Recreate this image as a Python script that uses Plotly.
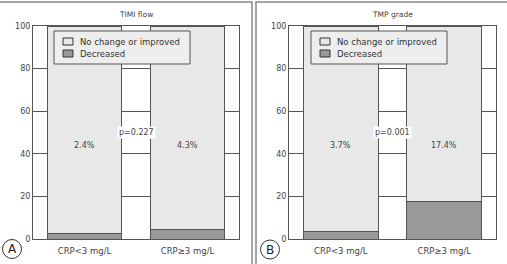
import plotly.graph_objects as go

categories = ["CRP<3 mg/L", "CRP≥3 mg/L"]
timi_decreased = [2.4, 4.3]
timi_nochange = [97.6, 95.7]
tmp_decreased = [3.7, 17.4]
tmp_nochange = [96.3, 82.6]
timi_pct = ["2.4%", "4.3%"]
tmp_pct = ["3.7%", "17.4%"]
p_values = ["p=0.227", "p=0.001"]
titles = ["TIMI flow", "TMP grade"]
panel_letters = ["A", "B"]
yticks = [0, 20, 40, 60, 80, 100]
series_names = ["Decreased", "No change or improved"]

W, H = 507, 264
FONT = "DejaVu Sans"
LIGHT = "#e8e8e8"
DARK = "#999999"
EDGE = "#555555"
TXT = "#444444"


def px(x):
    return x / W


def py(y):
    return 1 - y / H


fig = go.Figure()

panels = [
    dict(xa="x", ya="y", dec=timi_decreased, noc=timi_nochange, pct=timi_pct, leg_x=54),
    dict(xa="x2", ya="y2", dec=tmp_decreased, noc=tmp_nochange, pct=tmp_pct, leg_x=311),
]
colors = [DARK, LIGHT]

for i, p in enumerate(panels):
    for k, vals in enumerate([p["dec"], p["noc"]]):
        fig.add_trace(go.Bar(x=categories, y=vals, name=series_names[k],
                             marker=dict(color=colors[k], line=dict(color=EDGE, width=1)),
                             xaxis=p["xa"], yaxis=p["ya"], showlegend=False))

xdomains = [[px(33), px(239)], [px(289), px(496)]]
ydomain = [py(239), py(26)]

axis_common_x = dict(type="category", showline=True, mirror=True, linecolor=EDGE, linewidth=1, ticks="",
                     tickfont=dict(family=FONT, size=8.5, color=TXT), showgrid=False, automargin=False,
                     ticklabelstandoff=4)
axis_common_y = dict(range=[0, 100], tickvals=yticks, showline=True, mirror=True, linecolor=EDGE, linewidth=1,
                     showgrid=True, gridcolor=EDGE, gridwidth=1, zeroline=False, ticks="", automargin=False,
                     tickfont=dict(family=FONT, size=8, color=TXT))

fig.update_layout(
    width=W, height=H, margin=dict(l=0, r=0, t=0, b=0, autoexpand=False),
    paper_bgcolor="white", plot_bgcolor="white",
    barmode="stack", bargap=0.28,
    xaxis=dict(domain=xdomains[0], anchor="y", **axis_common_x),
    yaxis=dict(domain=ydomain, anchor="x", **axis_common_y),
    xaxis2=dict(domain=xdomains[1], anchor="y2", **axis_common_x),
    yaxis2=dict(domain=ydomain, anchor="x2", **axis_common_y),
    showlegend=False,
)

annotations = []
shapes = []
for i, p in enumerate(panels):
    xref = p["xa"]
    yref = p["ya"]
    for j, c in enumerate(categories):
        annotations.append(dict(x=c, y=44, xref=xref, yref=yref, text=p["pct"][j], showarrow=False,
                                xanchor="center", yanchor="middle",
                                font=dict(family=FONT, size=8, color=TXT)))
    annotations.append(dict(x=0.5, y=50, xref=xref, yref=yref, text=p_values[i], showarrow=False, bgcolor="white",
                            xanchor="center", yanchor="middle",
                            font=dict(family=FONT, size=8, color=TXT), borderpad=1))
    cx = (xdomains[i][0] + xdomains[i][1]) / 2
    annotations.append(dict(x=cx, y=py(15), xref="paper", yref="paper", text=titles[i], showarrow=False,
                            xanchor="center", yanchor="middle",
                            font=dict(family=FONT, size=7.5, color=TXT)))

    # legend box (drawn manually for compact spacing)
    lx = p["leg_x"]
    shapes.append(dict(type="rect", xref="paper", yref="paper", x0=px(lx), x1=px(lx + 136), y0=py(64), y1=py(31),
                       line=dict(color=EDGE, width=1), fillcolor="#eeeeee", layer="above"))
    rows = [(1, 41.5), (0, 53.5)]
    for k, ry in rows:
        shapes.append(dict(type="rect", xref="paper", yref="paper", x0=px(lx + 9), x1=px(lx + 19),
                           y0=py(ry + 3.5), y1=py(ry - 3.5), line=dict(color="#333", width=1),
                           fillcolor=colors[k], layer="above"))
        annotations.append(dict(x=px(lx + 24), y=py(ry), xref="paper", yref="paper", text=series_names[k],
                                showarrow=False, xanchor="left", yanchor="middle",
                                font=dict(family=FONT, size=8.5, color="#333")))

# panel borders
shapes.append(dict(type="rect", xref="paper", yref="paper", x0=px(-2), x1=px(252), y0=py(270), y1=py(2),
                   line=dict(color="#888", width=1.5)))
shapes.append(dict(type="rect", xref="paper", yref="paper", x0=px(256), x1=px(512), y0=py(270), y1=py(2),
                   line=dict(color="#888", width=1.5)))

# circled panel letters
circles = [(12, 249), (270, 249.5)]
for (cx, cy), letter in zip(circles, panel_letters):
    r = 9.5
    shapes.append(dict(type="circle", xref="paper", yref="paper", x0=px(cx - r), x1=px(cx + r), y0=py(cy + r), y1=py(cy - r),
                       line=dict(color="#333", width=1)))
    annotations.append(dict(x=px(cx), y=py(cy), xref="paper", yref="paper", text=letter, showarrow=False,
                            xanchor="center", yanchor="middle",
                            font=dict(family=FONT, size=12, color="#222")))

fig.update_layout(annotations=annotations, shapes=shapes)

fig.write_html("out.html")
